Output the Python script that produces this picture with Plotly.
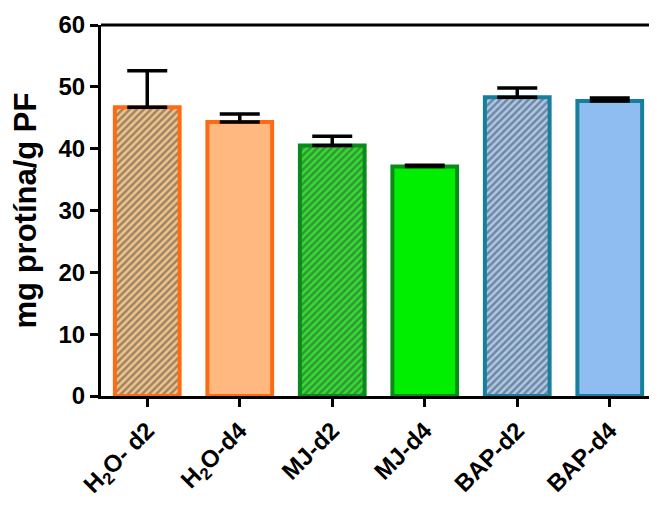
import plotly.graph_objects as go

categories = ["H<sub>2</sub>O- d2", "H<sub>2</sub>O-d4", "MJ-d2", "MJ-d4", "BAP-d2", "BAP-d4"]
values = [46.7, 44.3, 40.5, 37.1, 48.3, 47.7]
errors = [5.9, 1.3, 1.5, 0.2, 1.5, 0.5]
y_ticks = [0, 10, 20, 30, 40, 50, 60]

fill_colors = ["#f2c48a", "#ffb980", "#2fe02f", "#00ee00", "#a9c9ef", "#8fbdf2"]
line_colors = ["#ff6a13", "#ff6a13", "#0a8a1a", "#0a8a1a", "#16809c", "#16809c"]
pattern_shapes = ["/", "", "/", "", "/", ""]
pattern_fg = ["#3e2c12", "#000000", "#0a5e12", "#000000", "#2e5888", "#000000"]

font = "Arial, Liberation Sans, sans-serif"

fig = go.Figure()
fig.add_trace(go.Bar(
    x=list(range(len(categories))),
    y=values,
    width=0.7,
    marker=dict(
        color=fill_colors,
        line=dict(color=line_colors, width=4),
        pattern=dict(shape=pattern_shapes, fgcolor=pattern_fg, bgcolor=fill_colors,
                     size=5, solidity=0.5, fillmode="overlay"),
    ),
    error_y=dict(type="data", symmetric=False, array=errors,
                 arrayminus=[0] * len(errors), color="black", thickness=3.5, width=20),
))

fig.update_layout(
    width=649, height=498,
    margin=dict(l=93, r=1, t=17, b=110),
    paper_bgcolor="white", plot_bgcolor="white",
    showlegend=False,
    font=dict(family=font, size=24, color="black"),
    xaxis=dict(
        tickmode="array", tickvals=list(range(len(categories))),
        ticktext=["<b>" + c + "</b>" for c in categories],
        range=[-0.5, 5.5], tickangle=-45, automargin=False,
        showline=True, linecolor="black", linewidth=3,
        ticks="outside", ticklen=8, tickwidth=3, tickcolor="black",
        tickfont=dict(family=font, size=24, color="black"),
        showgrid=False, zeroline=False,
    ),
    yaxis=dict(
        range=[0, 60], tickvals=y_ticks, automargin=False,
        ticktext=["<b>%d</b>" % t for t in y_ticks],
        showline=True, linecolor="black", linewidth=3,
        ticks="outside", ticklen=8, tickwidth=3, tickcolor="black",
        tickfont=dict(family=font, size=24, color="black"),
        showgrid=False, zeroline=False,
        title=dict(text="<b>mg protína/g PF</b>", font=dict(family=font, size=31, color="black"), standoff=18),
    ),
    shapes=[
        dict(type="line", xref="paper", yref="paper", x0=0, x1=1, y0=1, y1=1,
             line=dict(color="black", width=3)),
        dict(type="line", xref="paper", yref="paper", x0=1, x1=1, y0=0, y1=1,
             line=dict(color="black", width=2)),
    ],
)

fig.write_html("out.html")
